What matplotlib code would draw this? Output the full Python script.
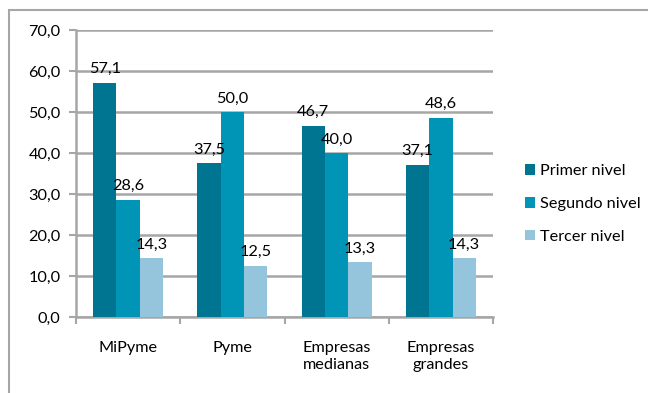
import matplotlib
matplotlib.use('Agg')
import matplotlib.pyplot as plt
from matplotlib.patches import Rectangle
import numpy as np

categories = ['MiPyme', 'Pyme', 'Empresas\nmedianas', 'Empresas\ngrandes']
series_names = ['Primer nivel', 'Segundo nivel', 'Tercer nivel']
primer = [57.1, 37.5, 46.7, 37.1]
segundo = [28.6, 50.0, 40.0, 48.6]
tercer = [14.3, 12.5, 13.3, 14.3]
colors = ['#007592', '#0095B7', '#95C5DD']

plt.rcParams['font.family'] = ['Lato', 'DejaVu Sans']
fs = 11.7

fig = plt.figure(figsize=(6.48, 3.93), dpi=100)
# outer chart frame (partly cut by the image edge)
fig.patches.append(Rectangle((9 / 648, -0.1), 1.2, (393 - 10) / 393 + 0.1,
                             transform=fig.transFigure, fill=False,
                             edgecolor='#a6a6a6', linewidth=1.5))

ax = fig.add_axes([76 / 648, 1 - 317 / 393, (493 - 76) / 648, (317 - 30) / 393])

x = np.arange(len(categories))
w = 0.224
for i, (vals, name) in enumerate(zip([primer, segundo, tercer], series_names)):
    pos = x + (i - 1) * w
    ax.bar(pos, vals, width=w, color=colors[i], label=name, zorder=3)
    for px, v in zip(pos, vals):
        ax.text(px, v + 1.6, ('%.1f' % v).replace('.', ','), ha='center',
                va='bottom', fontsize=fs, color='black', zorder=4)

ax.set_xlim(-0.5, len(categories) - 0.5)
ax.set_ylim(0, 70)
ax.set_yticks(np.arange(0, 71, 10))
ax.set_yticklabels([('%.1f' % t).replace('.', ',') for t in np.arange(0, 71, 10)],
                   fontsize=fs)
ax.yaxis.grid(True, color='#a6a6a6', linewidth=1.8, zorder=0)
ax.set_axisbelow(True)

ax.set_xticks(x)
ax.set_xticklabels(categories, fontsize=fs, linespacing=1.35)
ax.set_xticks(np.arange(-0.5, len(categories), 1), minor=True)
ax.tick_params(axis='x', which='major', length=0, pad=17)
ax.tick_params(axis='x', which='minor', length=5, width=1.5, color='#a6a6a6')
ax.tick_params(axis='y', length=5, width=1.5, color='#a6a6a6', pad=6)

for s in ['top', 'right']:
    ax.spines[s].set_visible(False)
ax.spines['left'].set_color('#a6a6a6')
ax.spines['left'].set_linewidth(1.8)
ax.spines['bottom'].set_color('#a6a6a6')
ax.spines['bottom'].set_linewidth(1.8)

ax.legend(loc='center left', bbox_to_anchor=(518 / 648, 1 - 204 / 393),
          bbox_transform=fig.transFigure, frameon=False, fontsize=fs,
          handlelength=0.62, handleheight=0.62, handletextpad=0.35,
          labelspacing=1.15, borderaxespad=0)

plt.savefig('out.png', dpi=100)
